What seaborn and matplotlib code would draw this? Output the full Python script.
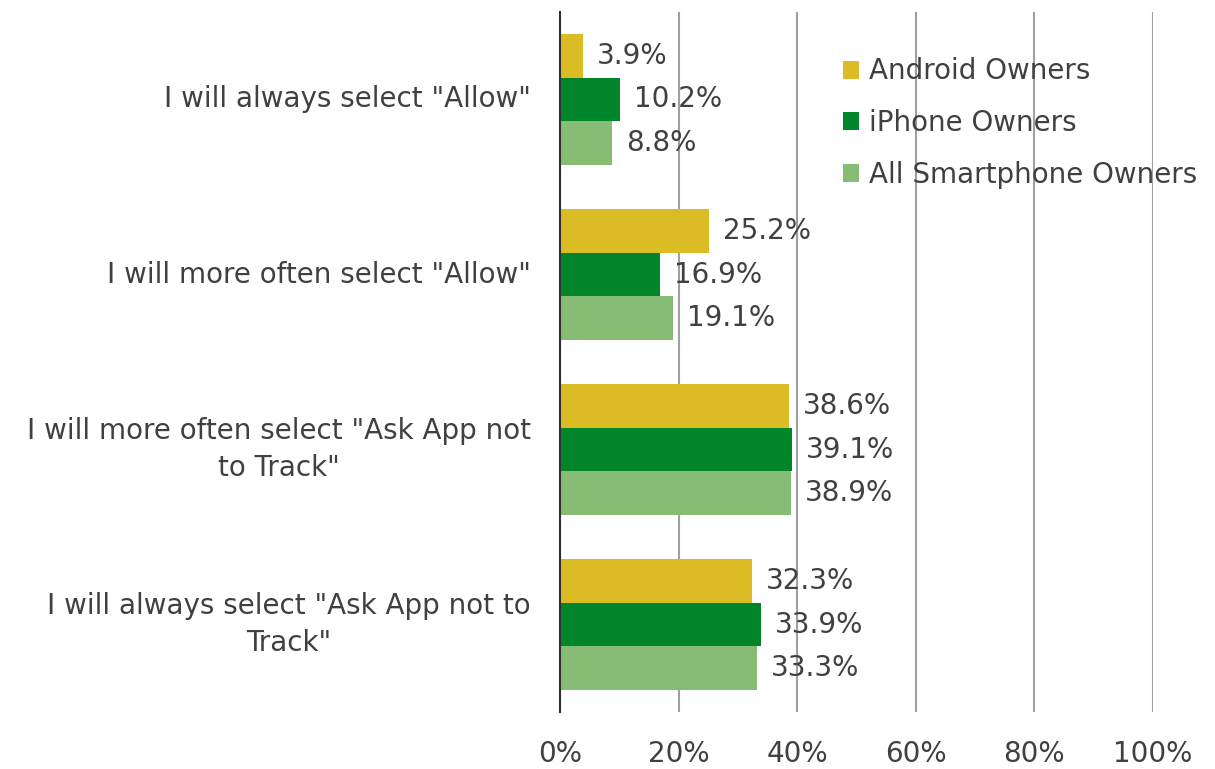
import pandas as pd
import numpy as np
import matplotlib.pyplot as plt
import seaborn as sns

# data
categories = [
    'I will always select "Allow"',
    'I will more often select "Allow"',
    'I will more often select "Ask App not\nto Track"',
    'I will always select "Ask App not to\nTrack"',
]
series = ['Android Owners', 'iPhone Owners', 'All Smartphone Owners']
android = [3.9, 25.2, 38.6, 32.3]
iphone = [10.2, 16.9, 39.1, 33.9]
all_owners = [8.8, 19.1, 38.9, 33.3]
xticks = [0, 20, 40, 60, 80, 100]

colors = ['#DCBC24', '#00852A', '#86BC74']
text_color = '#404040'
fs = 20

df = pd.DataFrame({
    'answer': categories * 3,
    'group': np.repeat(series, len(categories)),
    'pct': android + iphone + all_owners,
})

sns.set_style('white')
plt.rcParams['font.family'] = ['DejaVu Sans']

fig = plt.figure(figsize=(12.15, 7.69), dpi=100)
ax = fig.add_axes([0.4609, 0.0741, 0.488, 0.9103])

sns.barplot(data=df, y='answer', x='pct', hue='group', order=categories,
            hue_order=series, palette=colors, width=0.75, orient='h',
            saturation=1, linewidth=0, ax=ax, legend=True)

for cont in ax.containers:
    ax.bar_label(cont, fmt='%.1f%%', padding=10, fontsize=fs, color=text_color)

ax.set_xlim(0, 100)
ax.set_ylim(3.5, -0.5)
ax.set_xticks(xticks)
ax.set_xticklabels([f'{t}%' for t in xticks], fontsize=fs, color=text_color)
ax.tick_params(axis='x', length=0, pad=20)
ax.tick_params(axis='y', length=0, pad=21)
for lab in ax.get_yticklabels():
    lab.set_fontsize(fs)
    lab.set_color(text_color)
    lab.set_multialignment('center')
    lab.set_linespacing(1.45)
    lab.set_verticalalignment('center')
ax.set_xlabel('')
ax.set_ylabel('')

ax.grid(axis='x', color='#A0A0A0', linewidth=1.5)
ax.set_axisbelow(True)
for s in ['top', 'right', 'bottom']:
    ax.spines[s].set_visible(False)
ax.spines['left'].set_color('#303030')
ax.spines['left'].set_linewidth(1.5)

leg = ax.legend(loc='upper left', bbox_to_anchor=(0.477, 0.935), frameon=False,
                fontsize=fs, handlelength=0.6, handleheight=0.6,
                handletextpad=0.35, labelspacing=0.85, borderaxespad=0,
                borderpad=0)
for t in leg.get_texts():
    t.set_color(text_color)

fig.savefig('out.png', dpi=100)
